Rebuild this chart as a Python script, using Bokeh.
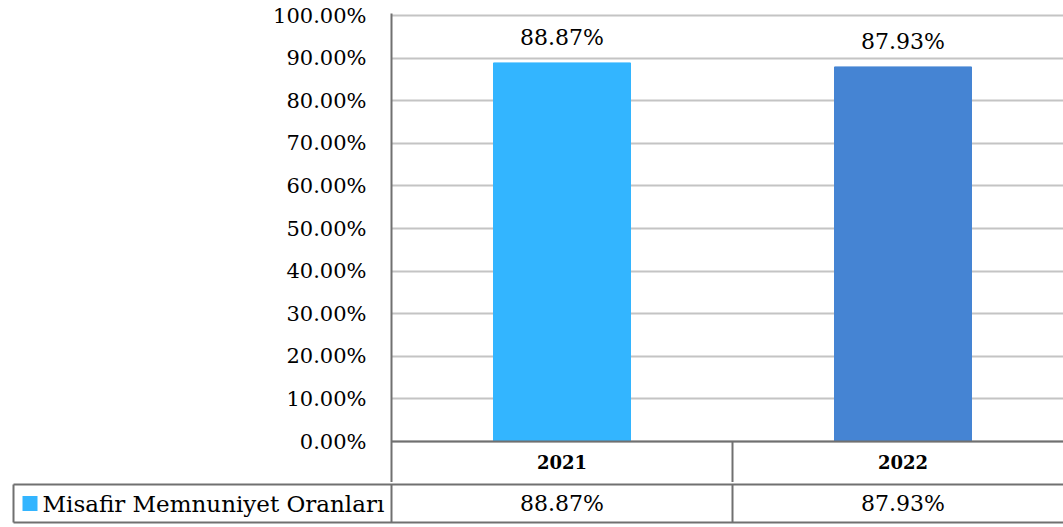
from bokeh.plotting import figure
from bokeh.models import Range1d, FixedTicker, PrintfTickFormatter, ColumnDataSource
from bokeh.embed import file_html
from bokeh.resources import INLINE
from bokeh.core.properties import value

# ---- data ----
years = ["2021", "2022"]
rates = [88.87, 87.93]
rate_labels = ["88.87%", "87.93%"]
bar_colors = ["#33B5FF", "#4584D3"]
series_name = "Misafir Memnuniyet Oranları"
y_ticks = [0, 10, 20, 30, 40, 50, 60, 70, 80, 90, 100]

# ---- layout constants ----
FONT = "DejaVu Serif"
W = 1063
CAT_PX = 341          # width of one category in px
LEFT = 391            # frame left inside canvas
FRAME_W = W - LEFT
TOP_PAD = 13
TOP_EXTRA = 2         # px above the 100% line inside the frame
PLOT_H = 426
ROW1 = 41
ROW2 = 38
EDGE = 2
LEG_LEFT = 11         # bottom figure frame left inside canvas
CELL_LEFT = 13        # legend cell left inside canvas
LINE = "#707070"
GRID = "#c4c4c4"

ppu = PLOT_H / 100.0
x_end = FRAME_W / CAT_PX
xs = [i + 0.5 for i in range(len(years))]

src = ColumnDataSource(dict(x=xs, rate=rates, label=rate_labels, color=bar_colors, year=years))

p = figure(width=W, height=TOP_PAD + TOP_EXTRA + PLOT_H + ROW1,
           x_range=Range1d(0, x_end), y_range=Range1d(-ROW1 / ppu, 100 + TOP_EXTRA / ppu),
           output_backend="svg", toolbar_location=None, x_axis_location=None,
           min_border_left=LEFT, min_border_right=0, min_border_top=TOP_PAD, min_border_bottom=0)
p.outline_line_color = None
p.xgrid.visible = False
p.ygrid.ticker = FixedTicker(ticks=y_ticks)
p.ygrid.grid_line_color = GRID
p.ygrid.grid_line_width = 2

ax = p.yaxis[0]
ax.ticker = FixedTicker(ticks=y_ticks)
ax.formatter = PrintfTickFormatter(format="%.2f%%")
ax.axis_line_color = LINE
ax.axis_line_width = 2
ax.major_tick_in = 0
ax.major_tick_out = 0
ax.minor_tick_in = 0
ax.minor_tick_out = 0
ax.major_label_standoff = 25
ax.major_label_text_font = FONT
ax.major_label_text_font_size = "21px"
ax.major_label_text_color = "black"

p.vbar(x="x", top="rate", width=137 / CAT_PX, color="color", source=src)
p.text(x="x", y="rate", text="label", text_align="center", text_baseline="bottom",
       y_offset=-13, text_font=value(FONT), text_font_size="22px", text_color="black", source=src)

# first table row (category names)
p.segment(x0=[0], y0=[0], x1=[x_end], y1=[0], line_color=LINE, line_width=2)
p.segment(x0=[i + 1 for i in range(len(years))], y0=[-ROW1 / ppu] * len(years),
          x1=[i + 1 for i in range(len(years))], y1=[0] * len(years), line_color=LINE, line_width=2)
p.text(x="x", y=-ROW1 / ppu / 2, text="year", text_align="center", text_baseline="middle",
       text_font=value(FONT), text_font_size="18px", text_font_style="bold", text_color="black", source=src)

# second table row (legend + values)
q_start = -(LEFT - LEG_LEFT) / CAT_PX
cell_left = -(LEFT - CELL_LEFT) / CAT_PX
q = figure(width=W, height=ROW2 + 2 * EDGE,
           x_range=Range1d(q_start, x_end), y_range=Range1d(-EDGE / ROW2, 1 + EDGE / ROW2),
           output_backend="svg", toolbar_location=None, x_axis_location=None, y_axis_location=None,
           min_border_left=LEG_LEFT, min_border_right=0, min_border_top=0, min_border_bottom=0)
q.outline_line_color = None
q.grid.visible = False
q.segment(x0=[cell_left, cell_left], y0=[0, 1], x1=[x_end, x_end], y1=[0, 1], line_color=LINE, line_width=2)
vx = [cell_left] + [float(i) for i in range(len(years) + 1)]
q.segment(x0=vx, y0=[0] * len(vx), x1=vx, y1=[1] * len(vx), line_color=LINE, line_width=2)
q.scatter(x=[cell_left + 16.5 / CAT_PX], y=[0.5], marker="square", size=15,
          fill_color=bar_colors[0], line_color=None)
q.text(x=[cell_left + 29 / CAT_PX], y=[0.5], text=[series_name], text_align="left", text_baseline="middle",
       text_font=value(FONT), text_font_size="23px", text_color="black")
q.text(x="x", y=0.5, text="label", text_align="center", text_baseline="middle",
       text_font=value(FONT), text_font_size="22px", text_color="black", source=src)

open("out.html", "w").write(file_html([p, q], INLINE))
